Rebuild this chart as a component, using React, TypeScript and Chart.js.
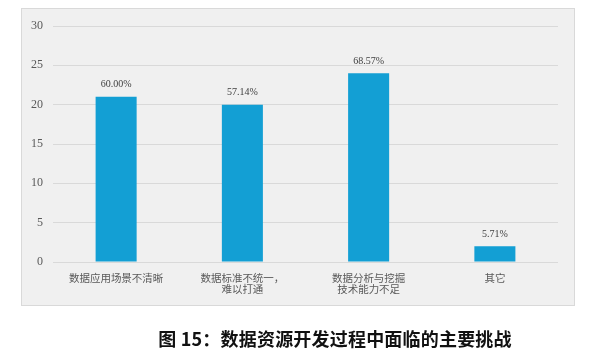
import React, { useEffect, useRef } from "react";
import { Chart, registerables } from "chart.js";

Chart.register(...registerables);

const categories: (string | string[])[] = [
  "数据应用场景不清晰",
  ["数据标准不统一，", "难以打通"],
  ["数据分析与挖掘", "技术能力不足"],
  "其它",
];
const counts = [21, 20, 24, 2];
const percentLabels = ["60.00%", "57.14%", "68.57%", "5.71%"];
const yTicks = { min: 0, max: 30, step: 5 };
const caption = "图 15：数据资源开发过程中面临的主要挑战";

const panelPlugin = {
  id: "panel",
  beforeDraw(chart: any) {
    const ctx = chart.ctx;
    ctx.save();
    ctx.fillStyle = "#f0f0f0";
    ctx.fillRect(21, 8, 554, 298);
    ctx.strokeStyle = "#d9d9d9";
    ctx.lineWidth = 1;
    ctx.strokeRect(21.5, 8.5, 553, 297);
    ctx.restore();
  },
};

const valueLabelPlugin = {
  id: "valueLabels",
  afterDatasetsDraw(chart: any) {
    const ctx = chart.ctx;
    const meta = chart.getDatasetMeta(0);
    ctx.save();
    ctx.font = "10px 'Liberation Serif'";
    ctx.fillStyle = "#404040";
    ctx.textAlign = "center";
    ctx.textBaseline = "bottom";
    meta.data.forEach((bar: any, i: number) => {
      ctx.fillText(percentLabels[i], bar.x, bar.y - 7);
    });
    ctx.restore();
  },
};

export default function App() {
  const ref = useRef<HTMLCanvasElement>(null);
  useEffect(() => {
    if (!ref.current) return;
    const chart = new Chart(ref.current, {
      type: "bar",
      data: {
        labels: categories,
        datasets: [
          {
            data: counts,
            backgroundColor: "#139fd4",
            barPercentage: 0.325,
            categoryPercentage: 1,
          },
        ],
      },
      options: {
        responsive: false,
        animation: false,
        layout: { padding: { left: 21, right: 42, top: 26, bottom: 0 } },
        plugins: {
          legend: { display: false },
          tooltip: { enabled: false },
        },
        scales: {
          x: {
            grid: { display: false },
            border: { display: false },
            ticks: {
              color: "#595959",
              font: { family: "'Noto Sans CJK SC'", size: 10.5, lineHeight: 1.0 },
              padding: 3,
              maxRotation: 0,
              autoSkip: false,
            },
            afterFit(scale: any) {
              scale.height = 96;
            },
          },
          y: {
            min: yTicks.min,
            max: yTicks.max,
            grid: { color: "#d9d9d9", drawTicks: false },
            border: { display: false },
            ticks: {
              stepSize: yTicks.step,
              color: "#595959",
              font: { family: "'Liberation Serif'", size: 12 },
              padding: 10,
            },
            afterFit(scale: any) {
              scale.width = 32;
            },
          },
        },
      },
      plugins: [panelPlugin, valueLabelPlugin],
    });
    return () => chart.destroy();
  }, []);
  return (
    <div style={{ position: "absolute", left: 0, top: 0, width: 600, height: 358, background: "#fff" }}>
      <canvas ref={ref} width={600} height={358} style={{ display: "block" }} />
      <div
        style={{
          position: "absolute",
          left: 135,
          width: 400,
          top: 326,
          textAlign: "center",
          fontFamily: "'Noto Sans CJK SC'",
          fontWeight: 700,
          fontSize: 18,
          lineHeight: "24px",
          color: "#111",
          letterSpacing: "0.2px",
        }}
      >
        {caption}
      </div>
    </div>
  );
}
